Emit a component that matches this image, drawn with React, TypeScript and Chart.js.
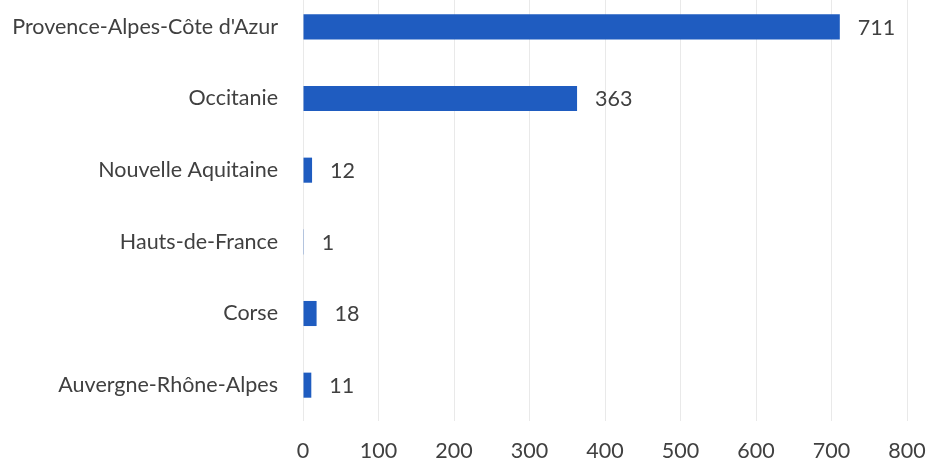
import React, { useEffect, useRef } from "react";
import { Chart, registerables } from "chart.js";

Chart.register(...registerables);

const categories = [
  "Provence-Alpes-Côte d'Azur",
  "Occitanie",
  "Nouvelle Aquitaine",
  "Hauts-de-France",
  "Corse",
  "Auvergne-Rhône-Alpes",
];
const values = [711, 363, 12, 1, 18, 11];
const xMin = 0;
const xMax = 800;
const xStep = 100;

const FONT = "Lato, 'Open Sans', sans-serif";
const TEXT = "#404040";
const BAR = "#1f5cc0";

const valueLabels = {
  id: "valueLabels",
  afterDatasetsDraw(chart: any) {
    const ctx = chart.ctx;
    const meta = chart.getDatasetMeta(0);
    ctx.save();
    ctx.font = `21.5px ${FONT}`;
    ctx.fillStyle = TEXT;
    ctx.textAlign = "left";
    ctx.textBaseline = "middle";
    meta.data.forEach((bar: any, i: number) => {
      ctx.fillText(String(values[i]), bar.x + 18, bar.y + 1);
    });
    ctx.restore();
  },
};

export default function App() {
  const ref = useRef<HTMLCanvasElement | null>(null);
  useEffect(() => {
    document.body.style.margin = "0";
    const chart = new Chart(ref.current as HTMLCanvasElement, {
      type: "bar",
      data: {
        labels: categories,
        datasets: [
          {
            data: values,
            backgroundColor: BAR,
            borderWidth: 0,
            categoryPercentage: 1,
            barPercentage: 0.35,
          },
        ],
      },
      options: {
        indexAxis: "y",
        animation: false,
        responsive: true,
        maintainAspectRatio: false,
        layout: { padding: { left: 0, right: 21, top: 0, bottom: 0 } },
        plugins: { legend: { display: false }, tooltip: { enabled: false } },
        scales: {
          x: {
            min: xMin,
            max: xMax,
            ticks: {
              stepSize: xStep,
              color: TEXT,
              font: { family: FONT, size: 21.5 },
              padding: 17,
            },
            grid: { color: "#e9e9e9", drawTicks: false, lineWidth: 1 },
            border: { display: false },
            afterFit(scale: any) {
              scale.height = 42;
              scale.paddingLeft = 0;
              scale.paddingRight = 0;
            },
          },
          y: {
            ticks: {
              color: TEXT,
              font: { family: FONT, size: 21.5 },
              padding: 25,
            },
            grid: { display: false, drawTicks: false },
            border: { display: false },
            afterFit(scale: any) {
              scale.width = 303;
              scale.paddingTop = 0;
              scale.paddingBottom = 0;
            },
          },
        },
      },
      plugins: [valueLabels],
    });
    return () => chart.destroy();
  }, []);
  return (
    <div style={{ width: 928, height: 463, overflow: "hidden", position: "relative", background: "#fff" }}>
      <div style={{ position: "absolute", left: 0, top: -9, width: 928, height: 472 }}>
        <canvas ref={ref} />
      </div>
    </div>
  );
}
